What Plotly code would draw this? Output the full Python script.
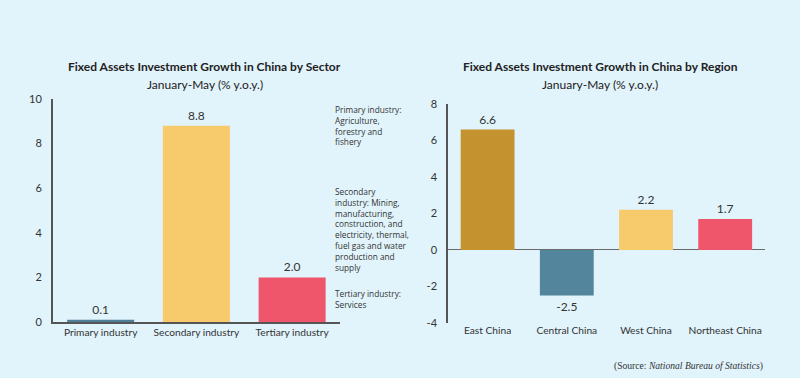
import plotly.graph_objects as go

sectors = ["Primary industry", "Secondary industry", "Tertiary industry"]
sector_values = [0.1, 8.8, 2.0]
sector_colors = ["#4E7F96", "#F7CB6C", "#EF566B"]

regions = ["East China", "Central China", "West China", "Northeast China"]
region_values = [6.6, -2.5, 2.2, 1.7]
region_colors = ["#C4922F", "#53869D", "#F7CB6C", "#EF566B"]

left_ticks = [0, 2, 4, 6, 8, 10]
left_tick_labels = ["0", "2", "4", "6", "8", "10"]
right_ticks = [-4, -2, 0, 2, 4, 6, 8]
right_tick_labels = ["-4", "-2", "0", "2", "4", "6", "8"]

notes = [
    "Primary industry:<br>Agriculture,<br>forestry and<br>fishery",
    "Secondary<br>industry: Mining,<br>manufacturing,<br>construction, and<br>electricity, thermal,<br>fuel gas and water<br>production and<br>supply",
    "Tertiary industry:<br>Services",
]

FONT = "Lato"
TXT = "#333333"
AX = "#555555"
bg = "#E1F3FB"

fig = go.Figure()
fig.add_trace(go.Bar(
    x=sectors, y=sector_values, marker_color=sector_colors, marker_line_width=0,
    text=[f"{v:.1f}" for v in sector_values], textposition="outside",
    textfont=dict(size=12, color=TXT, family=FONT), cliponaxis=False,
    width=0.7, xaxis="x", yaxis="y", showlegend=False))
fig.add_trace(go.Bar(
    x=regions, y=region_values, marker_color=region_colors, marker_line_width=0,
    text=[f"{v:.1f}" for v in region_values], textposition="outside",
    textfont=dict(size=12, color=TXT, family=FONT), cliponaxis=False,
    width=0.68, xaxis="x2", yaxis="y2", showlegend=False))

fig.update_layout(
    width=800, height=378, margin=dict(l=0, r=0, t=0, b=0, autoexpand=False),
    paper_bgcolor=bg, plot_bgcolor=bg,
    font=dict(family=FONT, color=TXT, size=11),
    xaxis=dict(domain=[0.066, 0.425], showline=True, linecolor=AX, linewidth=1.5,
               ticks="", tickfont=dict(size=10.2, color=TXT), showgrid=False, automargin=False),
    yaxis=dict(domain=[0.148, 0.738], range=[0, 10], tickvals=left_ticks, ticktext=left_tick_labels,
               showline=True, linecolor=AX, linewidth=1.5, ticks="", showgrid=False,
               zeroline=False, tickfont=dict(size=11, color=TXT), ticklabelstandoff=7,
               automargin=False),
    xaxis2=dict(domain=[0.56, 0.956], anchor="y2", showline=False, ticks="",
                tickfont=dict(size=10.2, color=TXT), showgrid=False, automargin=False),
    yaxis2=dict(domain=[0.1455, 0.725], anchor="x2", range=[-4, 8], tickvals=right_ticks,
                ticktext=right_tick_labels,
                showline=True, linecolor=AX, linewidth=1.5, ticks="", showgrid=False,
                zeroline=True, zerolinecolor="#6a6a6a", zerolinewidth=1.3,
                tickfont=dict(size=11, color=TXT), ticklabelstandoff=7, automargin=False),
    bargap=0.3,
)

annos = [
    dict(text="<b>Fixed Assets Investment Growth in China by Sector</b>", x=205, y=67, size=12),
    dict(text="January-May (% y.o.y.)", x=205, y=84, size=12),
    dict(text="<b>Fixed Assets Investment Growth in China by Region</b>", x=600, y=67, size=12),
    dict(text="January-May (% y.o.y.)", x=600, y=84, size=12),
]
for a in annos:
    fig.add_annotation(text=a["text"], x=a["x"] / 800, y=1 - a["y"] / 378, xref="paper", yref="paper",
                       xanchor="center", yanchor="middle", showarrow=False,
                       font=dict(size=a["size"], color="#222222", family=FONT))

note_pos = [(333, 102), (333, 184), (333, 286)]
for t, (x, y) in zip(notes, note_pos):
    fig.add_annotation(text=t, x=x / 800, y=1 - y / 378, xref="paper", yref="paper",
                       xanchor="left", yanchor="top", align="left", showarrow=False,
                       font=dict(size=8.3, color=TXT, family="Open Sans"))

fig.add_annotation(text="(Source: <i>National Bureau of Statistics</i>)", x=765 / 800, y=1 - 366 / 378,
                   xref="paper", yref="paper", xanchor="right", yanchor="middle", showarrow=False,
                   font=dict(size=9.6, color="#333333", family="Liberation Serif"))

fig.write_html("out.html", config={"displayModeBar": False},
               post_script="document.body.style.margin='0';document.body.style.overflow='hidden';")
